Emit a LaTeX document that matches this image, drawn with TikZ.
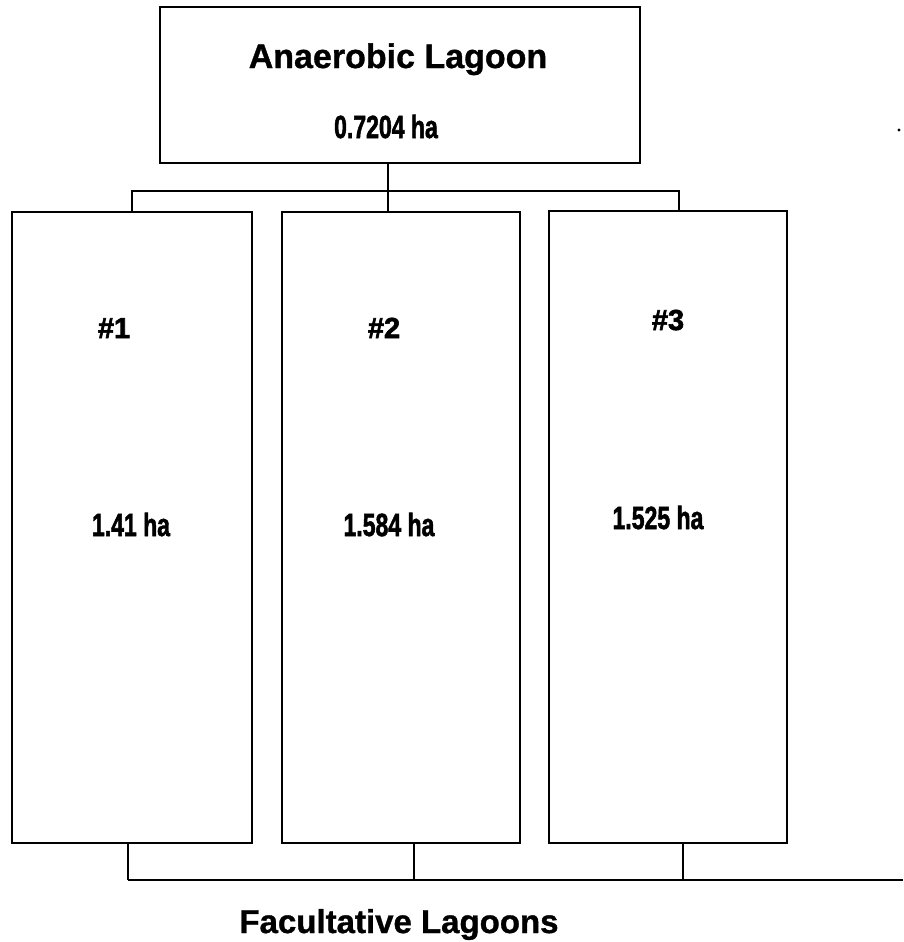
\documentclass[tikz,border=0pt]{standalone}
\usepackage{fontspec}
\setmainfont{Liberation Sans}
\newfontfamily\heavy[FakeBold=2]{Liberation Sans Bold}
\newfontfamily\semiheavy[FakeBold=1]{Liberation Sans Bold}
\usepackage{graphicx}
\tikzset{
  boxline/.style={draw=black, line width=2.8pt},
  conn/.style={draw=black, line width=2.4pt},
  lbl/.style={font=\semiheavy\fontsize{34}{38}\selectfont, inner sep=0pt, anchor=base},
  hashlbl/.style={font=\heavy\fontsize{29}{32}\selectfont, inner sep=0pt, anchor=base},
  num/.style={font=\heavy\fontsize{32}{36}\selectfont, inner sep=0pt, anchor=base}
}
\newcommand{\cnd}[1]{\scalebox{0.72}[1]{#1}}
\begin{document}
\begin{tikzpicture}[x=1pt,y=-1pt]
\useasboundingbox[fill=white] (0,0) rectangle (903,942);
% top box
\draw[boxline] (160,7) rectangle (640,163);
\coordinate (topb) at (388,163);
\node[lbl] (ttl) at (398,68) {Anaerobic Lagoon};
\node[num] (tarea) at (386,138) {\cnd{0.7204 ha}};
% lower boxes
\draw[boxline] (12,212) rectangle (252,843);
\draw[boxline] (282,212) rectangle (520,843);
\draw[boxline] (549,211) rectangle (787,843);
\node[hashlbl] (h1) at (114,338) {\#1};
\node[hashlbl] (h2) at (384,338) {\#2};
\node[hashlbl] (h3) at (668,330) {\#3};
\node[num] (a1) at (131,536) {\cnd{1.41 ha}};
\node[num] (a2) at (389,536) {\cnd{1.584 ha}};
\node[num] (a3) at (658,529) {\cnd{1.525 ha}};
% top connectors
\coordinate (cL) at (132,191);
\coordinate (cR) at (679,191);
\draw[conn] (topb) -- (388,212);
\draw[conn] (132,212) -- (cL) -- (cR) -- (679,211);
% bottom connectors
\coordinate (bL) at (128,880);
\coordinate (bM) at (414,880);
\coordinate (bR) at (683,880);
\coordinate (bE) at (903,880);
\draw[conn] (128,843) -- (bL);
\draw[conn] (414,843) -- (bM);
\draw[conn] (683,843) -- (bR);
\draw[conn] (bL) -- (bE);
\node[lbl, font=\semiheavy\fontsize{33}{36}\selectfont] (fac) at (399,933) {Facultative Lagoons};
\fill (899,130) circle (1.6pt);
\end{tikzpicture}
\end{document}
